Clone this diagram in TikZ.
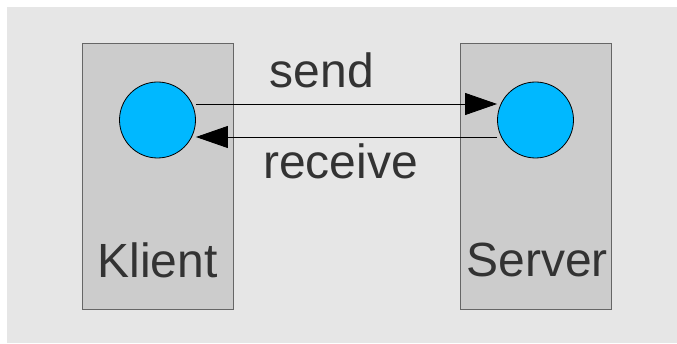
\documentclass[tikz,border=0pt]{standalone}
\usepackage{fontspec}
\setmainfont{Liberation Sans}
\usepackage{xcolor}
\usetikzlibrary{positioning, arrows.meta}

\definecolor{bggray}{HTML}{E6E6E6}
\definecolor{boxgray}{HTML}{CCCCCC}
\definecolor{boxline}{HTML}{666666}
\definecolor{dotblue}{HTML}{00B8FF}
\definecolor{textgray}{HTML}{333333}

\begin{document}
\begin{tikzpicture}[
            x=1pt, y=1pt,
            host/.style={rectangle, draw=boxline, line width=1pt, fill=boxgray, minimum width=151pt, minimum height=265pt, inner sep=0pt},
            endpoint/.style={circle, draw=black, line width=0.8pt, fill=dotblue, minimum size=76pt, inner sep=0pt},
            label/.style={anchor=base, text=textgray, font=\fontsize{48}{54}\selectfont, inner sep=0pt},
            arrow/.style={-{Triangle[length=32pt, width=22pt]}, line width=0.9pt}
        ]
            \useasboundingbox (0,0) rectangle (677,343);
            \fill[bggray] (7,0) rectangle (677,336);

            \node[host] (client) at (157.5,166.5) {};
            \node[host] (server) at (535.5,166.5) {};

            \node[endpoint] (csock) at (157.5,223) {};
            \node[endpoint] (ssock) at (535.5,223) {};

            \node[label] (clientname) at (157.7,66) {Klient};
            \node[label] (servername) at (537.3,67) {Server};
            \node[label] (sendlbl) at (321.7,255.5) {send};
            \node[label] (recvlbl) at (340.4,164) {receive};

            \draw[arrow] ([yshift=16pt]csock.east) -- ([yshift=16pt]ssock.west);
            \draw[arrow] ([yshift=-17pt]ssock.west) -- ([yshift=-17pt]csock.east);

        \end{tikzpicture}
\end{document}
